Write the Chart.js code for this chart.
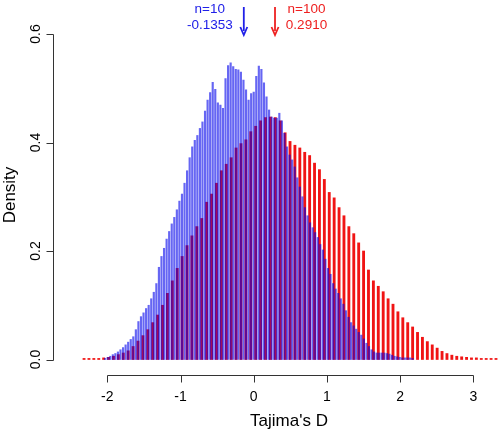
<!DOCTYPE html>
<html>
<head>
<meta charset="utf-8">
<script src="https://cdn.jsdelivr.net/npm/chart.js@4.4.0/dist/chart.umd.min.js"></script>
<style>
	html, body { margin: 0; padding: 0; background: #fff; }
	canvas { display: block; }
</style>
</head>
<body>
<canvas id="tajimaChart" width="498" height="432"></canvas>
<script>
(function () {
	'use strict';

	// tick labels
	var xTicks = [-2, -1, 0, 1, 2, 3];
	var yTicks = [0, 0.2, 0.4, 0.6];
	var yTickLabels = ['0.0', '0.2', '0.4', '0.6'];

	// n=100 histogram: first bin centre, bin width, density per bin
	var redStart = -2.318;
	var redStep = 0.067;
	var redDensity = [
		0.002, 0.002, 0.002, 0.002, 0.003, 0.004, 0.006, 0.009, 0.012, 0.016,
		0.024, 0.034, 0.044, 0.055, 0.068, 0.082, 0.100, 0.122, 0.145, 0.168,
		0.190, 0.210, 0.228, 0.245, 0.260, 0.290, 0.305, 0.325, 0.348, 0.360,
		0.372, 0.390, 0.398, 0.405, 0.420, 0.430, 0.440, 0.446, 0.447, 0.446,
		0.440, 0.418, 0.402, 0.395, 0.390, 0.382, 0.376, 0.362, 0.350, 0.332,
		0.308, 0.298, 0.280, 0.265, 0.245, 0.232, 0.215, 0.200, 0.165, 0.145,
		0.135, 0.125, 0.112, 0.102, 0.088, 0.077, 0.068, 0.060, 0.050, 0.041,
		0.033, 0.027, 0.021, 0.015, 0.011, 0.008, 0.006, 0.005, 0.004, 0.003,
		0.003, 0.002, 0.002, 0.002, 0.002, 0.002
	];

	// n=10 histogram
	var blueStart = -2.03;
	var blueStep = 0.035;
	var blueDensity = [
		0.002, 0.004, 0.006, 0.009, 0.011, 0.014, 0.018, 0.022, 0.027, 0.032,
		0.037, 0.042, 0.055, 0.070, 0.079, 0.086, 0.094, 0.100, 0.112, 0.124,
		0.140, 0.170, 0.190, 0.205, 0.222, 0.236, 0.250, 0.262, 0.276, 0.292,
		0.305, 0.325, 0.348, 0.372, 0.392, 0.404, 0.413, 0.426, 0.438, 0.458,
		0.478, 0.492, 0.511, 0.498, 0.473, 0.469, 0.463, 0.518, 0.542, 0.547,
		0.540, 0.535, 0.534, 0.530, 0.515, 0.497, 0.478, 0.490, 0.493, 0.522,
		0.541, 0.535, 0.510, 0.484, 0.460, 0.447, 0.445, 0.445, 0.454, 0.440,
		0.417, 0.392, 0.377, 0.368, 0.355, 0.335, 0.318, 0.300, 0.280, 0.265,
		0.252, 0.243, 0.234, 0.225, 0.212, 0.202, 0.185, 0.168, 0.157, 0.140,
		0.130, 0.122, 0.112, 0.102, 0.090, 0.078, 0.068, 0.062, 0.056, 0.050,
		0.045, 0.038, 0.030, 0.024, 0.018, 0.014, 0.012, 0.012, 0.012, 0.012,
		0.011, 0.010, 0.008, 0.006, 0.005, 0.004, 0.003, 0.003, 0.003, 0.003,
		0.002
	];

	// means marked with arrows
	var meanN10 = -0.1353;
	var meanN100 = 0.2910;
	var textN10 = ['n=10', '-0.1353'];
	var textN100 = ['n=100', '0.2910'];

	var BLUE = '#2020e8';
	var RED = '#ee2020';
	var FONT = '"Liberation Sans", Arial, sans-serif';

	function toPoints(start, step, values) {
		return values.map(function (v, i) {
			return { x: start + i * step, y: v };
		});
	}

	var rAxes = {
		id: 'rAxes',
		afterDraw: function (chart) {
			var ctx = chart.ctx;
			var xs = chart.scales.x;
			var ys = chart.scales.y;
			var area = chart.chartArea;
			ctx.save();

			// x axis, R style: line only between first and last tick
			var ax = area.bottom + 0.5;
			ctx.strokeStyle = '#333';
			ctx.lineWidth = 1;
			ctx.beginPath();
			ctx.moveTo(Math.round(xs.getPixelForValue(xTicks[0])) + 0.5, ax);
			ctx.lineTo(Math.round(xs.getPixelForValue(xTicks[xTicks.length - 1])) + 0.5, ax);
			xTicks.forEach(function (t) {
				var px = Math.round(xs.getPixelForValue(t)) + 0.5;
				ctx.moveTo(px, ax);
				ctx.lineTo(px, ax + 7);
			});
			ctx.stroke();

			ctx.fillStyle = '#000';
			ctx.font = '14px ' + FONT;
			ctx.textAlign = 'center';
			ctx.textBaseline = 'alphabetic';
			xTicks.forEach(function (t) {
				ctx.fillText(String(t), xs.getPixelForValue(t), 401);
			});
			ctx.font = '17px ' + FONT;
			ctx.fillText("Tajima's D", 289, 426);

			// y axis
			var ay = area.left + 0.5;
			ctx.beginPath();
			ctx.moveTo(ay, Math.round(ys.getPixelForValue(yTicks[0])) + 0.5);
			ctx.lineTo(ay, Math.round(ys.getPixelForValue(yTicks[yTicks.length - 1])) + 0.5);
			yTicks.forEach(function (t) {
				var py = Math.round(ys.getPixelForValue(t)) + 0.5;
				ctx.moveTo(ay, py);
				ctx.lineTo(ay - 7, py);
			});
			ctx.stroke();

			ctx.font = '14px ' + FONT;
			yTicks.forEach(function (t, i) {
				ctx.save();
				ctx.translate(40, ys.getPixelForValue(t));
				ctx.rotate(-Math.PI / 2);
				ctx.fillText(yTickLabels[i], 0, 0);
				ctx.restore();
			});
			ctx.save();
			ctx.font = '17px ' + FONT;
			ctx.translate(15, (area.top + area.bottom) / 2 - 3);
			ctx.rotate(-Math.PI / 2);
			ctx.fillText('Density', 0, 0);
			ctx.restore();

			// mean arrows and labels
			function arrow(xv, color) {
				var px = xs.getPixelForValue(xv);
				ctx.strokeStyle = color;
				ctx.fillStyle = color;
				ctx.lineWidth = 1.8;
				ctx.beginPath();
				ctx.moveTo(px, 7);
				ctx.lineTo(px, 31);
				ctx.stroke();
				ctx.beginPath();
				ctx.moveTo(px - 3.5, 27);
				ctx.lineTo(px, 35);
				ctx.lineTo(px + 3.5, 27);
				ctx.stroke();
				return px;
			}
			ctx.font = '13.5px ' + FONT;
			ctx.textAlign = 'center';
			var bx = arrow(meanN10, BLUE);
			ctx.fillText(textN10[0], bx - 34, 12.5);
			ctx.fillText(textN10[1], bx - 34, 28.5);
			var rx = arrow(meanN100, RED);
			ctx.fillText(textN100[0], rx + 31.5, 12.5);
			ctx.fillText(textN100[1], rx + 31.5, 28.5);

			ctx.restore();
		}
	};

	new Chart(document.getElementById('tajimaChart'), {
		type: 'bar',
		data: {
			datasets: [
				{
					label: 'n=10',
					data: toPoints(blueStart, blueStep, blueDensity),
					backgroundColor: 'rgba(0, 0, 235, 0.6)',
					borderWidth: 0,
					barThickness: 1.5,
					grouped: false,
					order: 0,
				},
				{
					label: 'n=100',
					data: toPoints(redStart, redStep, redDensity),
					backgroundColor: 'rgb(240, 20, 20)',
					borderWidth: 0,
					barThickness: 2.2,
					grouped: false,
					order: 1,
				},
			],
		},
		options: {
			responsive: false,
			animation: false,
			devicePixelRatio: 1,
			layout: {
				padding: { left: 53, right: 0, top: 21, bottom: 57 },
			},
			plugins: {
				legend: { display: false },
				tooltip: { enabled: false },
			},
			scales: {
				x: {
					type: 'linear',
					display: false,
					offset: false,
					min: -2.742,
					max: 3.3374,
				},
				y: {
					display: false,
					min: -0.02857,
					max: 0.624,
				},
			},
		},
		plugins: [rAxes],
	});
})();
</script>
</body>
</html>
